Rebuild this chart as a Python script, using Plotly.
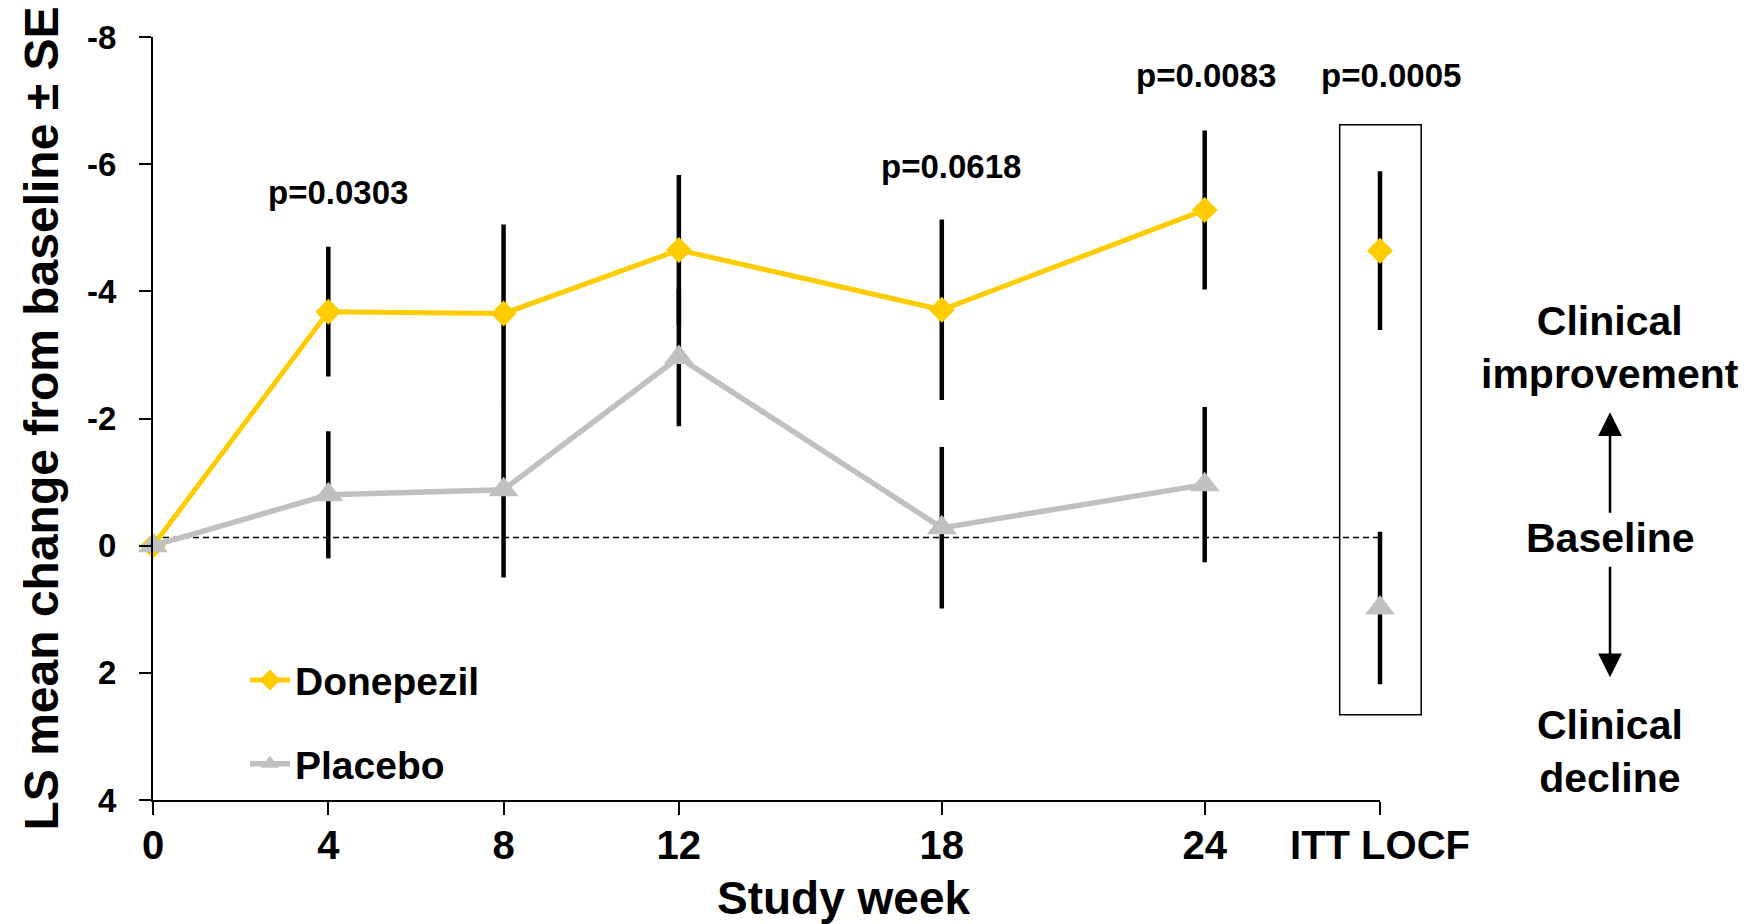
import plotly.graph_objects as go

# ---------------- data ----------------
weeks = [0, 4, 8, 12, 18, 24]
itt_x = [28]
x_tick_vals = [0, 4, 8, 12, 18, 24, 28]
x_tick_text = ["0", "4", "8", "12", "18", "24", "ITT LOCF"]
y_tick_vals = [-8, -6, -4, -2, 0, 2, 4]
y_tick_text = ["-8", "-6", "-4", "-2", "0", "2", "4"]

donepezil = [0, -3.68, -3.65, -4.65, -3.71, -5.28]
donepezil_se = [0, 1.02, 1.40, 1.18, 1.42, 1.25]
placebo = [0, -0.80, -0.88, -2.96, -0.28, -0.96]
placebo_se = [0, 1.00, 1.38, 1.08, 1.27, 1.22]

donepezil_itt = [-4.64]
donepezil_itt_se = [1.25]
placebo_itt = [0.98]
placebo_itt_se = [1.20]

p_labels = ["p=0.0303", "p=0.0618", "p=0.0083", "p=0.0005"]
p_x = [4.22, 18.21, 24.02, 28.24]
p_y = [-5.55, -5.97, -7.40, -7.39]

baseline_y = -0.13

# ---------------- layout geometry ----------------
FONT = "Liberation Sans, Arial, sans-serif"
GOLD = "#FFCC00"
GREY = "#C0C0C0"
X_MAX = 28
Y_RANGE = [4, -8]
W, H = 1758, 924
M_L, M_R, M_T, M_B = 153, 318, 37, 124
PLOT_W = W - M_L - M_R
AXIS_END_PX = 1380                      # pixel where the week axis ends (ITT LOCF)
MAIN_D = (AXIS_END_PX - M_L) / PLOT_W   # domain end of the week axis
PX_PER_WEEK = (AXIS_END_PX - M_L) / X_MAX


def xp(v):
    """week units -> paper x"""
    return v / X_MAX * MAIN_D


def yp(v):
    """data y -> paper y"""
    return (Y_RANGE[0] - v) / (Y_RANGE[0] - Y_RANGE[1])


# separate (invisible) axis for the ITT LOCF column so its error bars are not clipped
ITT_HALF = 1.0
itt_dom = [xp(itt_x[0] - ITT_HALF), xp(itt_x[0] + ITT_HALF)]

fig = go.Figure()

err_style = dict(type="data", visible=True, color="black", thickness=4.5, width=0)

fig.add_trace(go.Scatter(
    x=weeks, y=donepezil, name="Donepezil", mode="lines+markers",
    line=dict(color=GOLD, width=5),
    marker=dict(symbol="diamond", size=20, color=GOLD, line=dict(width=0)),
    error_y=dict(array=donepezil_se, **err_style),
    cliponaxis=False, legendgroup="d",
))
fig.add_trace(go.Scatter(
    x=weeks, y=placebo, name="Placebo", mode="lines+markers",
    line=dict(color=GREY, width=5.5),
    marker=dict(symbol="triangle-up", size=26, color=GREY, line=dict(width=0)),
    error_y=dict(array=placebo_se, **err_style),
    cliponaxis=False, legendgroup="p",
))
fig.add_trace(go.Scatter(
    x=itt_x, y=donepezil_itt, mode="markers", showlegend=False, xaxis="x2", yaxis="y",
    marker=dict(symbol="diamond", size=20, color=GOLD, line=dict(width=0)),
    error_y=dict(array=donepezil_itt_se, **err_style),
    cliponaxis=False, legendgroup="d",
))
fig.add_trace(go.Scatter(
    x=itt_x, y=placebo_itt, mode="markers", showlegend=False, xaxis="x2", yaxis="y",
    marker=dict(symbol="triangle-up", size=26, color=GREY, line=dict(width=0)),
    error_y=dict(array=placebo_itt_se, **err_style),
    cliponaxis=False, legendgroup="p",
))

# dashed baseline
fig.add_shape(type="line", xref="x", yref="y", x0=0, x1=X_MAX, y0=baseline_y, y1=baseline_y,
              line=dict(color="black", width=1.5, dash="6px,4px"), layer="below")

# box around ITT LOCF
box_x = [27.08, 28.94]
box_y = [-6.62, 2.66]
fig.add_shape(type="rect", xref="paper", yref="paper",
              x0=xp(box_x[0]), x1=xp(box_x[1]), y0=yp(box_y[1]), y1=yp(box_y[0]),
              line=dict(color="black", width=1.5))

annotations = []
for t, xx, yy in zip(p_labels, p_x, p_y):
    annotations.append(dict(x=xp(xx), y=yp(yy), xref="paper", yref="paper", text=t,
                            showarrow=False,
                            font=dict(family=FONT, size=33, color="black", weight="bold"),
                            xanchor="center", yanchor="middle"))

side_x = xp((1610 - M_L) / PX_PER_WEEK)
side_font = dict(family=FONT, size=41, color="black", weight="bold")
annotations += [
    dict(x=side_x, y=yp(-3.11), xref="paper", yref="paper", text="Clinical<br>improvement",
         showarrow=False, font=side_font, xanchor="center", yanchor="middle"),
    dict(x=side_x, y=yp(-0.12), xref="paper", yref="paper", text="Baseline",
         showarrow=False, font=side_font, xanchor="center", yanchor="middle"),
    dict(x=side_x, y=yp(3.23), xref="paper", yref="paper", text="Clinical<br>decline",
         showarrow=False, font=side_font, xanchor="center", yanchor="middle"),
    dict(x=side_x, y=yp(-2.10), xref="paper", yref="paper", text="", showarrow=True,
         ax=0, ay=102, arrowhead=2, arrowsize=1.9, arrowwidth=2.5, arrowcolor="black"),
    dict(x=side_x, y=yp(2.07), xref="paper", yref="paper", text="", showarrow=True,
         ax=0, ay=-112, arrowhead=2, arrowsize=1.9, arrowwidth=2.5, arrowcolor="black"),
    dict(x=xp((41 - M_L) / PX_PER_WEEK), y=0.5, xref="paper", yref="paper",
         text="LS mean change from baseline ± SE", textangle=-90, showarrow=False,
         font=dict(family=FONT, size=48, color="black", weight="bold"),
         xanchor="center", yanchor="middle"),
    dict(x=xp((844 - M_L) / PX_PER_WEEK), y=-0.128, xref="paper", yref="paper",
         text="Study week", showarrow=False,
         font=dict(family=FONT, size=46, color="black", weight="bold"),
         xanchor="center", yanchor="middle"),
]

fig.update_layout(
    width=W, height=H,
    margin=dict(l=M_L, r=M_R, t=M_T, b=M_B),
    paper_bgcolor="white", plot_bgcolor="rgba(0,0,0,0)",
    font=dict(family=FONT, color="black"),
    annotations=annotations,
    legend=dict(x=(245 - M_L) / PLOT_W, y=0.102, xanchor="left", yanchor="middle",
                font=dict(family=FONT, size=39, color="black", weight="bold"),
                traceorder="grouped", tracegroupgap=30, itemwidth=40,
                bgcolor="rgba(0,0,0,0)"),
    xaxis=dict(domain=[0, MAIN_D], range=[0, X_MAX], tickmode="array",
               tickvals=x_tick_vals, ticktext=x_tick_text,
               showline=True, linecolor="black", linewidth=2, ticks="outside", ticklen=13,
               tickwidth=2, tickcolor="black", showgrid=False, zeroline=False,
               tickfont=dict(family=FONT, size=40, color="black", weight="bold"),
               ticklabelstandoff=-4),
    xaxis2=dict(domain=itt_dom, range=[itt_x[0] - ITT_HALF, itt_x[0] + ITT_HALF],
                anchor="y", visible=False, showgrid=False, zeroline=False),
    yaxis=dict(range=Y_RANGE, tickmode="array", tickvals=y_tick_vals, ticktext=y_tick_text,
               showline=True, linecolor="black", linewidth=2, ticks="outside", ticklen=12,
               tickwidth=2, tickcolor="black", showgrid=False, zeroline=False,
               tickfont=dict(family=FONT, size=33, color="black", weight="bold"),
               ticklabelstandoff=16),
)

fig.write_html("out.html")
